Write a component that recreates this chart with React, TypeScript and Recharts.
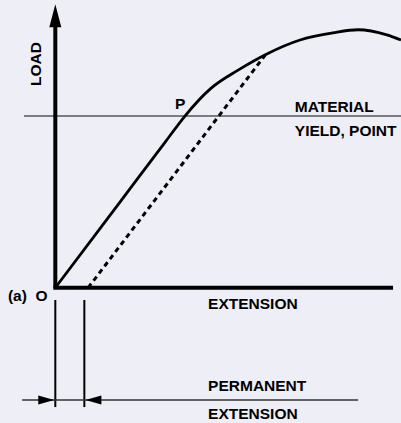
import React from 'react';
import {
  ComposedChart,
  Line,
  Scatter,
  XAxis,
  YAxis,
  ReferenceLine,
  ReferenceDot,
} from 'recharts';

// load / extension curve (extension in arbitrary units, load in arbitrary units)
const curveExtension = [0, 1.87, 3.2, 3.75, 4.5, 5.3, 6.12, 7.08, 8.03, 8.76, 9.59, 10];
const curveLoad = [0, 3.01, 5.15, 6.03, 7.0, 7.65, 8.21, 8.7, 8.95, 9.06, 8.88, 8.7];

// unloading line (parallel to the elastic part)
const unloadExtension = [0.95, 6.07];
const unloadLoad = [0, 8.17];

const yieldLoad = 6.03;
const permanentSet = 0.84;

const labels = ['LOAD', 'P', 'MATERIAL', 'YIELD, POINT', '(a)  O', 'EXTENSION', 'PERMANENT', 'EXTENSION'];
const labelExt = [-0.56, 3.46, 6.93, 6.93, -1.37, 4.42, 4.42, 4.42];
const labelLoad = [7.86, 6.28, 6.17, 5.33, -0.47, -0.75, -3.63, -4.61];

const curveData = curveExtension.map((ext, i) => ({ ext, load: curveLoad[i] }));
const unloadData = unloadExtension.map((ext, i) => ({ ext, load: unloadLoad[i] }));

const arrowTips = [
  { ext: 0, load: 9.96, dir: 'up' },
  { ext: -0.03, load: -3.94, dir: 'right' },
  { ext: permanentSet + 0.03, load: -3.94, dir: 'left' },
];

const BG = '#eeeef6';
const FONT = '"Liberation Sans", Arial, sans-serif';

const Arrow = (props: any) => {
  const { cx, cy, payload } = props;
  let pts = '';
  if (payload.dir === 'up') pts = `${cx},${cy} ${cx - 6},${cy + 23} ${cx + 6},${cy + 23}`;
  if (payload.dir === 'right') pts = `${cx},${cy} ${cx - 16},${cy - 4.5} ${cx - 16},${cy + 4.5}`;
  if (payload.dir === 'left') pts = `${cx},${cy} ${cx + 16},${cy - 4.5} ${cx + 16},${cy + 4.5}`;
  return <polygon points={pts} fill="#000" />;
};

export default function App() {
  return (
    <div style={{ position: 'absolute', left: 0, top: 0, width: 401, height: 423, background: BG }}>
      <ComposedChart width={401} height={423} margin={{ top: 3, right: 0, bottom: 0, left: 0 }}>
        <XAxis dataKey="ext" type="number" domain={[-1.6, 10]} hide allowDataOverflow />
        <YAxis dataKey="load" type="number" domain={[-4.75, 10]} hide allowDataOverflow />

        {/* yield line */}
        <ReferenceLine
          segment={[{ x: -0.905, y: yieldLoad }, { x: 10, y: yieldLoad }]}
          stroke="#555"
          strokeWidth={1.5}
        />

        {/* axes */}
        <ReferenceLine segment={[{ x: 0, y: 0 }, { x: 0, y: 9.19 }]} stroke="#000" strokeWidth={4} />
        <ReferenceLine segment={[{ x: -0.058, y: 0 }, { x: 9.77, y: 0 }]} stroke="#000" strokeWidth={4} />

        {/* permanent extension dimension */}
        <ReferenceLine segment={[{ x: 0, y: -0.43 }, { x: 0, y: -4.19 }]} stroke="#000" strokeWidth={2} />
        <ReferenceLine
          segment={[{ x: permanentSet, y: -0.43 }, { x: permanentSet, y: -4.19 }]}
          stroke="#000"
          strokeWidth={2}
        />
        <ReferenceLine segment={[{ x: -0.96, y: -3.94 }, { x: 8.76, y: -3.94 }]} stroke="#333" strokeWidth={1.5} />

        <Line
          data={curveData}
          dataKey="load"
          type="monotone"
          dot={false}
          stroke="#000"
          strokeWidth={2.8}
          isAnimationActive={false}
        />
        <Line
          data={unloadData}
          dataKey="load"
          type="linear"
          dot={false}
          stroke="#000"
          strokeWidth={3}
          strokeDasharray="5 4"
          isAnimationActive={false}
        />
        <Scatter data={arrowTips} shape={Arrow} isAnimationActive={false} />

        {labels.map((text, i) => (
          <ReferenceDot
            key={i}
            x={labelExt[i]}
            y={labelLoad[i]}
            r={0}
            shape={(p: any) =>
              i === 0 ? (
                <text
                  x={p.cx}
                  y={p.cy}
                  transform={`rotate(-90, ${p.cx}, ${p.cy})`}
                  textAnchor="middle"
                  dominantBaseline="central"
                  fontFamily={FONT}
                  fontWeight="bold"
                  fontSize={15.5}
                  fill="#000"
                >
                  {text}
                </text>
              ) : (
                <text x={p.cx} y={p.cy} fontFamily={FONT} fontWeight="bold" fontSize={15.5} fill="#000" xmlSpace="preserve">
                  {text}
                </text>
              )
            }
          />
        ))}
      </ComposedChart>
    </div>
  );
}
